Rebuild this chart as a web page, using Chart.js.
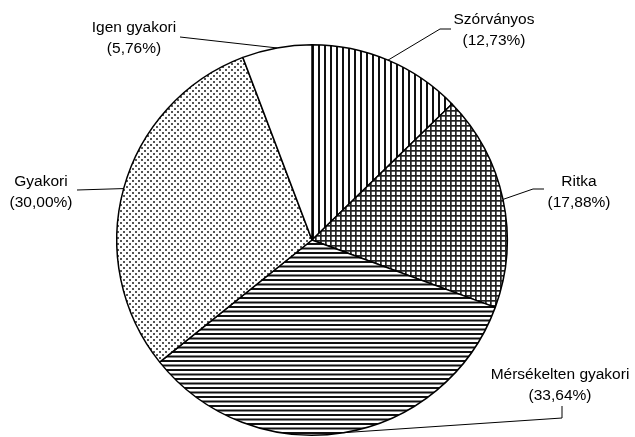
<!DOCTYPE html>
<html>
<head>
<meta charset="utf-8">
<script src="https://cdn.jsdelivr.net/npm/chart.js@4"></script>
<style>
  html, body { margin: 0; padding: 0; background: #fff; }
  #wrap { width: 635px; height: 437px; }
</style>
</head>
<body>
<div id="wrap"><canvas id="pieChart"></canvas></div>
<script>
// Data
var categories = ['Szórványos', 'Ritka', 'Mérsékelten gyakori', 'Gyakori', 'Igen gyakori'];
var shares = [12.73, 17.88, 33.64, 30.00, 5.76];

// Hatch patterns (like the b/w office chart fills)
function makePattern(w, h, draw) {
  var c = document.createElement('canvas');
  c.width = w; c.height = h;
  var g = c.getContext('2d');
  g.fillStyle = '#fff';
  g.fillRect(0, 0, w, h);
  draw(g);
  return g.createPattern(c, 'repeat');
}

var verticalLines = makePattern(6, 6, function (g) {
  g.fillStyle = '#111';
  g.fillRect(0, 0, 2, 6);
});
var gridLines = makePattern(5, 5, function (g) {
  g.fillStyle = '#222';
  g.fillRect(0, 0, 5, 1.7);
  g.fillRect(0, 0, 1.7, 5);
});
var horizontalLines = makePattern(9, 9, function (g) {
  g.fillStyle = '#111';
  g.fillRect(0, 0, 9, 2);
  g.fillRect(0, 4.5, 9, 2);
});
var dots = makePattern(6, 6, function (g) {
  g.fillStyle = '#555';
  g.fillRect(0, 0, 2, 2);
  g.fillRect(3, 3, 2, 2);
});

// where each label sits and how its leader bends
var labelLayout = [
  { x: 494, y: 20, path: [[440, 29], [451, 29]] },
  { x: 579, y: 182, path: [[533, 189], [544, 189]] },
  { x: 560, y: 375, path: [[562, 418], [562, 406]] },
  { x: 41, y: 182, path: [[77, 190]] },
  { x: 134, y: 28, path: [[180, 37]] }
];

var calloutPlugin = {
  id: 'callouts',
  afterDraw: function (chart) {
    var ctx = chart.ctx;
    var arcs = chart.getDatasetMeta(0).data;
    ctx.save();
    ctx.strokeStyle = '#000';
    ctx.lineWidth = 1;
    ctx.fillStyle = '#000';
    ctx.font = '15.5px "Liberation Sans", Arial, sans-serif';
    ctx.textAlign = 'center';
    ctx.textBaseline = 'middle';
    arcs.forEach(function (arc, i) {
      var p = arc.getProps(['x', 'y', 'startAngle', 'endAngle', 'outerRadius'], true);
      var mid = (p.startAngle + p.endAngle) / 2;
      var ex = p.x + Math.cos(mid) * p.outerRadius;
      var ey = p.y + Math.sin(mid) * p.outerRadius;
      var lay = labelLayout[i];
      ctx.beginPath();
      ctx.moveTo(ex, ey);
      lay.path.forEach(function (pt) { ctx.lineTo(pt[0], pt[1]); });
      ctx.stroke();
      ctx.fillText(categories[i], lay.x, lay.y);
      ctx.fillText('(' + shares[i].toFixed(2).replace('.', ',') + '%)', lay.x, lay.y + 20.5);
    });
    ctx.restore();
  }
};

var pieCtx = document.getElementById('pieChart').getContext('2d');

var pieChart = new Chart(pieCtx, {
  type: 'pie',
  data: {
    labels: categories,
    datasets: [{
      data: shares,
      backgroundColor: [verticalLines, gridLines, horizontalLines, dots, '#ffffff'],
      borderColor: '#000',
      borderWidth: 1.5
    }]
  },
  options: {
    responsive: true,
    maintainAspectRatio: false,
    animation: false,
    devicePixelRatio: 1,
    layout: {
      padding: { top: 44, bottom: 1, left: 116, right: 127 }
    },
    plugins: {
      legend: { display: false },
      tooltip: { enabled: false }
    }
  },
  plugins: [calloutPlugin]
});
</script>
</body>
</html>
